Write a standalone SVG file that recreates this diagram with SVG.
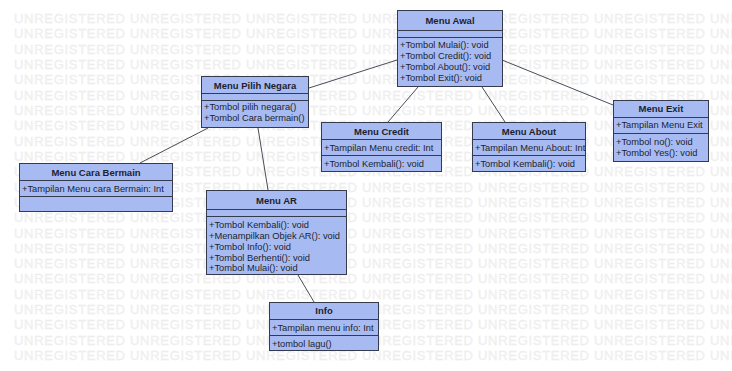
<svg xmlns="http://www.w3.org/2000/svg" width="732" height="371" viewBox="0 0 732 371">
  <style>
    .wm { font-family: "Liberation Sans", Arial, sans-serif; font-size: 13px; letter-spacing: 0.7px; fill: #f2f2f2; stroke: #ebebeb; stroke-width: 0.3; }
    .box { fill: #a7bbf2; stroke: #353b4d; stroke-width: 1; }
    .sep { stroke: #353b4d; stroke-width: 1; }
    .title { font-family: "Liberation Sans", Arial, sans-serif; font-size: 9.5px; font-weight: bold; fill: #1c1f2e; text-anchor: middle; }
    .mem { font-family: "Liberation Sans", Arial, sans-serif; font-size: 9.3px; fill: #1c1f2e; }
    .conn line { stroke: #4a4d57; stroke-width: 1; }
  </style>

  <rect width="732" height="371" fill="#ffffff"/>

  <!-- watermark rows -->
  <g id="watermark">
    <text class="wm" x="14" y="23">UNREGISTERED UNREGISTERED UNREGISTERED UNREGISTERED UNREGISTERED UNREGISTERED UNREGISTERED</text>
    <text class="wm" x="14" y="38.3">UNREGISTERED UNREGISTERED UNREGISTERED UNREGISTERED UNREGISTERED UNREGISTERED UNREGISTERED</text>
    <text class="wm" x="14" y="53.6">UNREGISTERED UNREGISTERED UNREGISTERED UNREGISTERED UNREGISTERED UNREGISTERED UNREGISTERED</text>
    <text class="wm" x="14" y="69">UNREGISTERED UNREGISTERED UNREGISTERED UNREGISTERED UNREGISTERED UNREGISTERED UNREGISTERED</text>
    <text class="wm" x="14" y="84.3">UNREGISTERED UNREGISTERED UNREGISTERED UNREGISTERED UNREGISTERED UNREGISTERED UNREGISTERED</text>
    <text class="wm" x="14" y="99.6">UNREGISTERED UNREGISTERED UNREGISTERED UNREGISTERED UNREGISTERED UNREGISTERED UNREGISTERED</text>
    <text class="wm" x="14" y="114.9">UNREGISTERED UNREGISTERED UNREGISTERED UNREGISTERED UNREGISTERED UNREGISTERED UNREGISTERED</text>
    <text class="wm" x="14" y="130.2">UNREGISTERED UNREGISTERED UNREGISTERED UNREGISTERED UNREGISTERED UNREGISTERED UNREGISTERED</text>
    <text class="wm" x="14" y="145.6">UNREGISTERED UNREGISTERED UNREGISTERED UNREGISTERED UNREGISTERED UNREGISTERED UNREGISTERED</text>
    <text class="wm" x="14" y="160.9">UNREGISTERED UNREGISTERED UNREGISTERED UNREGISTERED UNREGISTERED UNREGISTERED UNREGISTERED</text>
    <text class="wm" x="14" y="176.2">UNREGISTERED UNREGISTERED UNREGISTERED UNREGISTERED UNREGISTERED UNREGISTERED UNREGISTERED</text>
    <text class="wm" x="14" y="191.5">UNREGISTERED UNREGISTERED UNREGISTERED UNREGISTERED UNREGISTERED UNREGISTERED UNREGISTERED</text>
    <text class="wm" x="14" y="206.8">UNREGISTERED UNREGISTERED UNREGISTERED UNREGISTERED UNREGISTERED UNREGISTERED UNREGISTERED</text>
    <text class="wm" x="14" y="222.2">UNREGISTERED UNREGISTERED UNREGISTERED UNREGISTERED UNREGISTERED UNREGISTERED UNREGISTERED</text>
    <text class="wm" x="14" y="237.5">UNREGISTERED UNREGISTERED UNREGISTERED UNREGISTERED UNREGISTERED UNREGISTERED UNREGISTERED</text>
    <text class="wm" x="14" y="252.8">UNREGISTERED UNREGISTERED UNREGISTERED UNREGISTERED UNREGISTERED UNREGISTERED UNREGISTERED</text>
    <text class="wm" x="14" y="268.1">UNREGISTERED UNREGISTERED UNREGISTERED UNREGISTERED UNREGISTERED UNREGISTERED UNREGISTERED</text>
    <text class="wm" x="14" y="283.4">UNREGISTERED UNREGISTERED UNREGISTERED UNREGISTERED UNREGISTERED UNREGISTERED UNREGISTERED</text>
    <text class="wm" x="14" y="298.8">UNREGISTERED UNREGISTERED UNREGISTERED UNREGISTERED UNREGISTERED UNREGISTERED UNREGISTERED</text>
    <text class="wm" x="14" y="314.1">UNREGISTERED UNREGISTERED UNREGISTERED UNREGISTERED UNREGISTERED UNREGISTERED UNREGISTERED</text>
    <text class="wm" x="14" y="329.4">UNREGISTERED UNREGISTERED UNREGISTERED UNREGISTERED UNREGISTERED UNREGISTERED UNREGISTERED</text>
    <text class="wm" x="14" y="344.7">UNREGISTERED UNREGISTERED UNREGISTERED UNREGISTERED UNREGISTERED UNREGISTERED UNREGISTERED</text>
    <text class="wm" x="14" y="360">UNREGISTERED UNREGISTERED UNREGISTERED UNREGISTERED UNREGISTERED UNREGISTERED UNREGISTERED</text>
  </g>

  <!-- associations -->
  <g id="connectors" class="conn">
    <line x1="397" y1="60" x2="309" y2="88"/>
    <line x1="418" y1="87" x2="388" y2="122"/>
    <line x1="482" y1="87" x2="505" y2="122"/>
    <line x1="502" y1="60" x2="613" y2="105"/>
    <line x1="208" y1="128" x2="140" y2="163"/>
    <line x1="258" y1="128" x2="268" y2="190"/>
    <line x1="298" y1="275" x2="314" y2="302"/>
  </g>

  <g id="menu-awal">
    <rect class="box" x="397.5" y="10.5" width="105" height="76"/>
    <line class="sep" x1="397.5" y1="30.5" x2="502.5" y2="30.5"/>
    <line class="sep" x1="397.5" y1="37.5" x2="502.5" y2="37.5"/>
    <text class="title" x="450" y="24">Menu Awal</text>
    <text class="mem" x="400" y="48">+Tombol Mulai(): void</text>
    <text class="mem" x="400" y="59">+Tombol Credit(): void</text>
    <text class="mem" x="400" y="70">+Tombol About(): void</text>
    <text class="mem" x="400" y="81">+Tombol Exit(): void</text>
  </g>

  <g id="menu-pilih-negara">
    <rect class="box" x="201.5" y="76.5" width="107" height="51"/>
    <line class="sep" x1="201.5" y1="93.5" x2="308.5" y2="93.5"/>
    <line class="sep" x1="201.5" y1="100.5" x2="308.5" y2="100.5"/>
    <text class="title" x="255" y="89">Menu Pilih Negara</text>
    <text class="mem" x="204" y="110">+Tombol pilih negara()</text>
    <text class="mem" x="204" y="121">+Tombol Cara bermain()</text>
  </g>

  <g id="menu-credit">
    <rect class="box" x="321.5" y="122.5" width="120" height="49"/>
    <line class="sep" x1="321.5" y1="139.5" x2="441.5" y2="139.5"/>
    <line class="sep" x1="321.5" y1="155.5" x2="441.5" y2="155.5"/>
    <text class="title" x="381.5" y="135">Menu Credit</text>
    <text class="mem" x="324" y="151">+Tampilan Menu credit: Int</text>
    <text class="mem" x="324" y="167">+Tombol Kembali(): void</text>
  </g>

  <g id="menu-about">
    <rect class="box" x="472.5" y="122.5" width="113" height="49"/>
    <line class="sep" x1="472.5" y1="139.5" x2="585.5" y2="139.5"/>
    <line class="sep" x1="472.5" y1="155.5" x2="585.5" y2="155.5"/>
    <text class="title" x="529" y="135">Menu About</text>
    <text class="mem" x="475" y="151">+Tampilan Menu About: Int</text>
    <text class="mem" x="475" y="167">+Tombol Kembali(): void</text>
  </g>

  <g id="menu-exit">
    <rect class="box" x="613.5" y="100.5" width="95" height="61"/>
    <line class="sep" x1="613.5" y1="117.5" x2="708.5" y2="117.5"/>
    <line class="sep" x1="613.5" y1="133.5" x2="708.5" y2="133.5"/>
    <text class="title" x="661" y="112">Menu Exit</text>
    <text class="mem" x="616" y="128">+Tampilan Menu Exit</text>
    <text class="mem" x="616" y="145">+Tombol no(): void</text>
    <text class="mem" x="616" y="156">+Tombol Yes(): void</text>
  </g>

  <g id="menu-cara-bermain">
    <rect class="box" x="19.5" y="163.5" width="153" height="48"/>
    <line class="sep" x1="19.5" y1="180.5" x2="172.5" y2="180.5"/>
    <line class="sep" x1="19.5" y1="196.5" x2="172.5" y2="196.5"/>
    <text class="title" x="96" y="176">Menu Cara Bermain</text>
    <text class="mem" x="22" y="192">+Tampilan Menu cara Bermain: Int</text>
  </g>

  <g id="menu-ar">
    <rect class="box" x="206.5" y="190.5" width="140" height="84"/>
    <line class="sep" x1="206.5" y1="209.5" x2="346.5" y2="209.5"/>
    <line class="sep" x1="206.5" y1="216.5" x2="346.5" y2="216.5"/>
    <text class="title" x="276.5" y="204">Menu AR</text>
    <text class="mem" x="209" y="228">+Tombol Kembali(): void</text>
    <text class="mem" x="209" y="239">+Menampilkan Objek AR(): void</text>
    <text class="mem" x="209" y="250">+Tombol Info(): void</text>
    <text class="mem" x="209" y="261">+Tombol Berhenti(): void</text>
    <text class="mem" x="209" y="271">+Tombol Mulai(): void</text>
  </g>

  <g id="info">
    <rect class="box" x="269.5" y="302.5" width="109" height="48"/>
    <line class="sep" x1="269.5" y1="319.5" x2="378.5" y2="319.5"/>
    <line class="sep" x1="269.5" y1="335.5" x2="378.5" y2="335.5"/>
    <text class="title" x="324" y="314">Info</text>
    <text class="mem" x="272" y="331">+Tampilan menu info: Int</text>
    <text class="mem" x="272" y="347">+tombol lagu()</text>
  </g>
</svg>
